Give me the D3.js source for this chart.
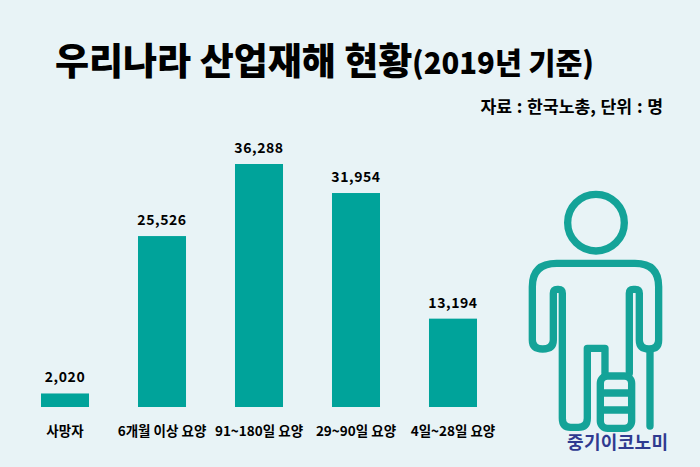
<!DOCTYPE html>
<html><head><meta charset="utf-8">
<script src="https://cdn.jsdelivr.net/npm/d3@7/dist/d3.min.js"></script>
<style>html,body{margin:0;padding:0;background:#e8f3f6}svg{display:block}
text{font-family:"Noto Sans CJK KR","Noto Sans",sans-serif;fill:#000}</style></head>
<body><svg id="c" width="700" height="467"></svg>
<script>
const categories=["사망자","6개월 이상 요양","91~180일 요양","29~90일 요양","4일~28일 요양"];
const values=[2020,25526,36288,31954,13194];
const valueLabels=["2,020","25,526","36,288","31,954","13,194"];
const barColor="#00a39a", iconColor="#14a398";
const svg=d3.select("#c");
svg.append("rect").attr("width",700).attr("height",467).attr("fill","#e8f3f6");
const x=d3.scaleBand().domain(categories).range([16.75,501.25]).paddingInner(0.505).paddingOuter(0.25);
const y=d3.scaleLinear().domain([0,36288]).range([407,164]);
svg.selectAll("rect.bar").data(values).join("rect").attr("class","bar")
 .attr("x",(d,i)=>x(categories[i])).attr("width",x.bandwidth())
 .attr("y",d=>y(d)).attr("height",d=>y(0)-y(d)).attr("fill",barColor);
svg.selectAll("text.val").data(values).join("text").attr("class","val")
 .attr("x",(d,i)=>x(categories[i])+x.bandwidth()/2).attr("y",d=>y(d)-11)
 .attr("text-anchor","middle").attr("font-size",14).attr("font-weight",700)
 .attr("letter-spacing",0.6)
 .text((d,i)=>valueLabels[i]);
svg.selectAll("text.cat").data(categories).join("text").attr("class","cat")
 .attr("x",d=>x(d)+x.bandwidth()/2).attr("y",436).attr("text-anchor","middle")
 .attr("font-size",13.5).attr("font-weight",700).text(d=>d);
svg.append("text").attr("x",55).attr("y",75).attr("font-size",37).attr("font-weight",900).text("우리나라 산업재해 현황");
svg.append("text").attr("x",412).attr("y",74).attr("font-size",30).attr("font-weight",900).attr("textLength",182).attr("lengthAdjust","spacingAndGlyphs").text("(2019년 기준)");
svg.append("text").attr("x",663).attr("y",113).attr("text-anchor","end").attr("font-size",17.2).attr("font-weight",700).attr("word-spacing",0.8).text("자료 : 한국노총, 단위 : 명");
// icon (decoration)
const g=svg.append("g").attr("transform","translate(500,170) scale(0.3333)").attr("fill","none").attr("stroke",iconColor).attr("stroke-width",22).attr("stroke-linecap","round").attr("stroke-linejoin","round");
g.append("circle").attr("cx",288).attr("cy",158).attr("r",85);
g.append("path").attr("d","M315 610V535H262V745Q262 772 235 772H212Q187 772 187 745V370Q187 358 175 358H172Q160 358 160 370V510Q160 537 128 537Q97 537 97 510V350Q97 280 170 280H405Q476 280 476 350V510Q476 537 447 537Q418 537 418 510V370Q418 358 406 358H400Q388 358 388 370V610");
g.append("rect").attr("x",301).attr("y",618).attr("width",94).attr("height",157).attr("rx",22);
g.append("path").attr("d","M305 669H392M305 720H392");
g.append("path").attr("d","M450 540V768");
svg.append("text").attr("x",567).attr("y",449).attr("font-size",18).attr("font-weight",700).style("fill","#2f3a90").attr("textLength",101).text("중기이코노미");
</script></body></html>
